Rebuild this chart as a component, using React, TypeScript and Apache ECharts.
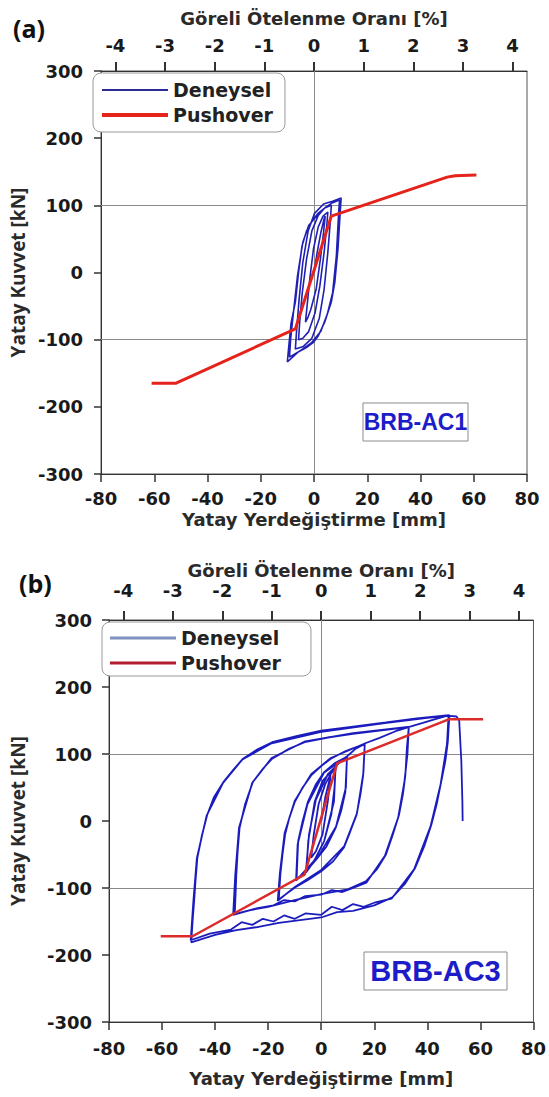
import React, { useEffect, useRef } from "react";
import * as echarts from "echarts";

// ---------- data ----------
const xTicksMm = [-80, 80, 20]; // min, max, interval
const yTicksKn = [-300, 300, 100];
const pctTicks = [-4, -3, -2, -1, 0, 1, 2, 3, 4];
const pctMax = 4.29; // % drift that corresponds to 80 mm
const gridLinesY = [100, -100];
const gridLinesX = [0];

const pushoverA: number[][] = [
  [-61, -165], [-52, -165], [-7, -84], [6.5, 84], [50, 142], [53, 144], [61, 145],
];

const deneyselA: number[][] = [
  [0, 0], [1.2, 30], [2.6, 60], [3.8, 80], [4.2, 84],
  [3.6, 60], [2.4, 20], [0.8, -25], [-1.2, -55], [-2.4, -68], [-3.2, -74],
  [-2.6, -50], [-1.6, -10], [-0.2, 35], [1.6, 68], [3.4, 84], [5.2, 90],
  [4.8, 70], [3.8, 30], [2.2, -20], [0.4, -60], [-2, -88], [-4.2, -98], [-5.8, -100],
  [-5.4, -75], [-4.4, -30], [-2.8, 20], [-0.8, 62], [1.6, 85], [4, 96], [6.5, 100],
  [6.2, 80], [5.2, 30], [3.8, -25], [2, -68], [-0.8, -98], [-4, -110], [-7, -114],
  [-6.6, -90], [-5.6, -40], [-4.2, 15], [-2.2, 62], [0.2, 88], [3.6, 102], [7, 106], [10.2, 111],
  [9.9, 94], [9, 35], [7.8, -15], [6.5, -44], [4, -74], [1.5, -95], [-0.2, -104], [-3, -112], [-5.8, -118], [-10, -133],
  [-9.6, -115], [-8.6, -75], [-7, -44], [-5.8, 0], [-4.5, 39.5], [-2.8, 62], [-0.8, 76.5], [1.5, 88], [4, 96], [7, 104], [9.6, 108],
  [9.3, 92], [8.4, 25], [7, -30], [5, -62], [2.5, -88], [-1, -105], [-5, -116], [-9.2, -126],
  [-8.8, -100], [-7.6, -55], [-6.2, -5], [-4.2, 45], [-2, 70], [1, 84],
];

const pushoverB: number[][] = [
  [-60.5, -172], [-48.5, -172], [-6.3, -80], [6, 86], [48.3, 152], [61, 152],
];

const deneyselB: number[][] = [
  [0, 0], [1.5, 35], [3.5, 68], [2.5, 30], [0.5, -20], [-2, -45], [-3.8, -55], [-2.8, -20], [-1, 25], [1.5, 55], [3.6, 70],
  [4.5, 75], [5.4, 78], [5, 50], [3.8, 10], [1.1, -30], [-2.5, -58], [-5.6, -75], [-4.9, -30], [-2.45, 29], [0.5, 60], [2.45, 68], [5.4, 80],
  [4.8, 29], [1.1, -30], [-3, -62], [-5.8, -77], [-4.6, -20], [-2, 32], [2.5, 70], [5.6, 82],
  [7.5, 90], [9.7, 95], [9.1, 43.6], [7.5, 15], [5.4, -10.6], [2, -38], [-1.4, -55], [-5, -72], [-9.3, -87],
  [-8.7, -30], [-7, 0], [-5, 29], [-2, 55], [1.1, 73], [5, 86], [9.7, 96],
  [9.3, 50], [5.6, -8], [-1, -52], [-9.5, -89], [-8.9, -35], [-5.2, 25], [1, 72], [9.9, 97],
  [13, 108], [16.4, 115], [15.8, 68], [14.8, 40], [13.3, 9], [11, -15], [8.5, -40], [4.5, -60], [0, -75], [-5, -88], [-9.9, -99.4], [-16, -117],
  [-15.4, -79.6], [-14.6, -50], [-13.6, -20], [-12, 5], [-9.9, 29], [-7, 50], [-3.8, 68], [0, 82], [3.6, 93], [9, 104], [16.4, 115],
  [15.9, 72], [13.5, 12], [8.6, -38], [0, -73], [-9.8, -98], [-16.4, -119], [-15.6, -78], [-13.8, -18], [-10, 30], [-3.8, 70], [3.6, 94], [16.6, 116],
  [22, 124], [28, 134], [33, 140], [32.3, 110], [31.7, 68], [30.8, 40], [29.3, 9], [27, -20], [24.4, -50], [21, -72], [17, -89.5], [10, -102], [0, -109],
  [-10, -118], [-20, -128], [-28, -134], [-32.6, -138.8], [-32.3, -110], [-32, -79.6], [-31.5, -45], [-30.8, -10.6], [-28.7, 25], [-25.8, 58],
  [-22, 78], [-18.5, 93], [-12, 108], [-6.25, 117.6], [3, 125], [12, 130], [22, 135], [33, 140],
  [32.5, 100], [31.4, 60], [29, 5], [24, -52], [17, -92], [12, -100], [8, -106], [4, -103], [0, -110], [-6, -112], [-10, -120], [-14, -118],
  [-18, -126], [-24, -130], [-33.2, -140], [-32.4, -80], [-31, -10], [-26, 57], [-18.7, 94], [-6, 119], [12, 131], [33.5, 141],
  [38, 146], [43, 152], [48.3, 158], [47.7, 117.6], [46.8, 90], [45.2, 58], [43.5, 25], [41.5, -5.6], [38.8, -38], [35.4, -70], [31.5, -94],
  [26.8, -114], [20, -126], [12, -134], [6, -136], [0, -144], [-8, -148], [-16, -152], [-24.6, -158.6], [-32, -163], [-40, -170], [-49, -181],
  [-48.5, -150], [-47.9, -119], [-47.4, -90], [-46.7, -55], [-45, -22], [-43, 9], [-40.5, 35], [-36.9, 58], [-33, 77], [-29.5, 93], [-24, 107],
  [-18.5, 117.6], [-9, 127], [0, 135], [12, 141], [24.4, 147], [36, 153], [48, 158],
  [47.4, 115], [45, 55], [41.2, -8], [35, -72], [26.5, -116], [20, -122], [16, -128], [12, -124], [8, -133], [4, -128], [0, -140], [-6, -138],
  [-10, -146], [-14, -141], [-18, -150], [-22, -146], [-26, -155], [-30, -151], [-34, -162], [-42, -168], [-49.2, -178],
  [-48.2, -120], [-46.9, -56], [-43.2, 8], [-37, 57], [-29.7, 92], [-18.7, 116], [0, 133], [24, 146], [40, 154], [48.5, 157],
  [51, 156], [52, 150], [52.8, 90], [53.2, 30], [53.3, 0],
];

const legendNames = ["Deneysel", "Pushover"];

// ---------- styles ----------
const tickFont = { fontFamily: "DejaVu Sans", fontWeight: "bold" as const, fontSize: 18, color: "#1a1a1a" };
const nameFont = { fontFamily: "DejaVu Sans", fontWeight: "bold" as const, fontSize: 18, color: "#2a2a2a" };
const yNameFont = { fontFamily: "Open Sans", fontWeight: "bold" as const, fontSize: 19, color: "#2a2a2a" };
const axisLineStyle = { color: "#333", width: 1 };

function bottomAxis(grid: number, labelMargin: number, nameGap: number) {
  return {
    gridIndex: grid, type: "value", position: "bottom",
    min: xTicksMm[0], max: xTicksMm[1], interval: xTicksMm[2],
    name: "Yatay Yerdeğiştirme [mm]", nameLocation: "middle", nameGap, nameTextStyle: nameFont,
    axisLine: { show: true, onZero: false, lineStyle: axisLineStyle },
    axisTick: { show: true, inside: false, length: 8, lineStyle: { color: "#333", width: 1.5 } },
    axisLabel: { ...tickFont, margin: labelMargin },
    splitLine: { show: false },
  };
}
function topAxis(grid: number, labelMargin: number, nameGap: number) {
  return {
    gridIndex: grid, type: "value", position: "top",
    min: -pctMax, max: pctMax,
    name: "Göreli Ötelenme Oranı [%]", nameLocation: "middle", nameGap, nameTextStyle: nameFont,
    axisLine: { show: true, onZero: false, lineStyle: axisLineStyle },
    axisTick: { show: true, inside: false, length: 9, customValues: pctTicks, lineStyle: { color: "#333", width: 2 } },
    axisLabel: { ...tickFont, margin: labelMargin, customValues: pctTicks },
    splitLine: { show: false },
  };
}
function leftAxis(grid: number, labelMargin: number, nameGap: number) {
  return {
    gridIndex: grid, type: "value",
    min: yTicksKn[0], max: yTicksKn[1], interval: yTicksKn[2],
    name: "Yatay Kuvvet [kN]", nameLocation: "middle", nameGap, nameRotate: 90, nameTextStyle: yNameFont,
    axisLine: { show: true, onZero: false, lineStyle: axisLineStyle },
    axisTick: { show: true, inside: false, length: 7, lineStyle: { color: "#333", width: 1.5 } },
    axisLabel: { ...tickFont, margin: labelMargin },
    splitLine: { show: false },
  };
}
function gridMarks() {
  return {
    silent: true, symbol: ["none", "none"], z: 1,
    label: { show: false },
    lineStyle: { color: "#8a8a8a", width: 1, type: "solid" },
    emphasis: { disabled: true },
    data: [...gridLinesY.map((v) => ({ yAxis: v })), ...gridLinesX.map((v) => ({ xAxis: v }))],
  };
}
function legend(left: number, top: number, items: any[], padding: number[]) {
  return {
    data: items, orient: "vertical", left, top, padding, itemGap: 5,
    itemWidth: 66, itemHeight: 14, backgroundColor: "#fff", borderColor: "#9a9a9a", borderWidth: 1, borderRadius: 8,
    textStyle: { fontFamily: "DejaVu Sans", fontWeight: "bold", fontSize: 19, color: "#222", lineHeight: 20 },
    formatter: (n: string) => n.trim(), selectedMode: false,
  };
}
function legendItem(name: string, color: string, thick: number) {
  return { name, icon: `path://M0,0H66V${thick}H0Z`, itemStyle: { color, borderWidth: 0 } };
}
function label(x: number, y: number, w: number, h: number, text: string, size: number) {
  return {
    type: "group", z: 50,
    children: [
      { type: "rect", shape: { x, y, width: w, height: h }, style: { fill: "#fff", stroke: "#8c8c8c", lineWidth: 1 } },
      {
        type: "text", x: x + w / 2, y: y + h / 2,
        style: { text, fill: "#1c1cc8", font: `bold ${size}px "Liberation Sans", Arial`, textAlign: "center", textVerticalAlign: "middle", verticalAlign: "middle", align: "center" },
      },
    ],
  };
}

export default function App() {
  const ref = useRef<HTMLDivElement>(null);
  useEffect(() => {
    if (!ref.current) return;
    const chart = echarts.init(ref.current, undefined, { renderer: "svg" });
    chart.setOption({
      animation: false,
      backgroundColor: "#fff",
      title: [
        { text: "(a)", left: 8, top: 10, textStyle: { fontFamily: "Open Sans", fontWeight: "bold", fontSize: 25, color: "#111" } },
        { text: "(b)", left: 14, top: 565, textStyle: { fontFamily: "Open Sans", fontWeight: "bold", fontSize: 25, color: "#111" } },
      ],
      grid: [
        { left: 91, top: 71, width: 436, height: 403, show: true, borderColor: "#555", borderWidth: 1, backgroundColor: "transparent" },
        { left: 99, top: 620, width: 435, height: 402, show: true, borderColor: "#555", borderWidth: 1, backgroundColor: "transparent" },
      ],
      xAxis: [bottomAxis(0, 15, 36), topAxis(0, 17, 44), bottomAxis(1, 17, 47), topAxis(1, 21, 41)],
      yAxis: [leftAxis(0, 18, 74), leftAxis(1, 17, 82)],
      legend: [
        legend(93, 73, [legendItem("Deneysel", "#2b2b96", 2), legendItem("Pushover", "#e5231b", 4)], [7, 12, 7, 9]),
        legend(102, 622, [legendItem("Deneysel ", "#8090c0", 3), legendItem("Pushover ", "#b01c30", 3)], [6, 30, 3, 8]),
      ],
      series: [
        {
          name: "Deneysel", type: "line", xAxisIndex: 0, yAxisIndex: 0, data: deneyselA,
          symbol: "none", showSymbol: false, z: 3, lineStyle: { color: "#2020b4", width: 1.6 }, itemStyle: { color: "#2b2b96" },
          markLine: gridMarks(),
        },
        {
          name: "Pushover", type: "line", xAxisIndex: 0, yAxisIndex: 0, data: pushoverA,
          symbol: "none", showSymbol: false, z: 4, lineStyle: { color: "#e5231b", width: 3 }, itemStyle: { color: "#e5231b" },
        },
        {
          name: "Deneysel ", type: "line", xAxisIndex: 2, yAxisIndex: 1, data: deneyselB,
          symbol: "none", showSymbol: false, z: 3, lineStyle: { color: "#1c1cbe", width: 1.8 }, itemStyle: { color: "#8090c0" },
          markLine: gridMarks(),
        },
        {
          name: "Pushover ", type: "line", xAxisIndex: 2, yAxisIndex: 1, data: pushoverB,
          symbol: "none", showSymbol: false, z: 4, lineStyle: { color: "#dc2b2b", width: 2.5 }, itemStyle: { color: "#b01c30" },
        },
      ],
      graphic: [label(363, 403, 105, 38, "BRB-AC1", 23), label(364, 952, 143, 38, "BRB-AC3", 29)],
    });
    return () => chart.dispose();
  }, []);
  return <div ref={ref} style={{ position: "absolute", left: 0, top: 0, width: 549, height: 1097 }} />;
}
